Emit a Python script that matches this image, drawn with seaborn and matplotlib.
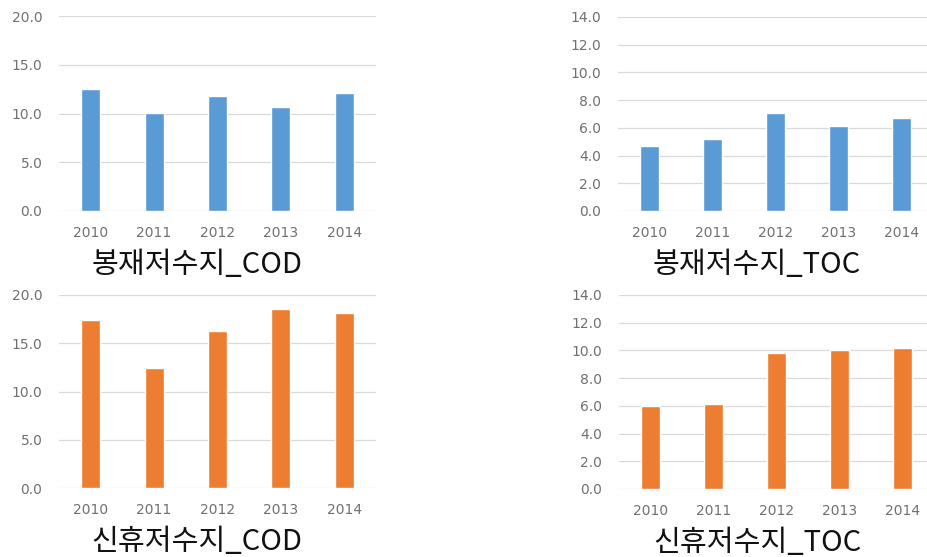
import numpy as np
import pandas as pd
import matplotlib
matplotlib.use("Agg")
import matplotlib.pyplot as plt
import seaborn as sns

# ====================================================
# DATA
# ====================================================

years = ["2010", "2011", "2012", "2013", "2014"]

bongjae_cod = [12.5, 10.1, 11.8, 10.7, 12.1]
bongjae_toc = [4.7, 5.2, 7.1, 6.1, 6.7]
sinhyu_cod = [17.4, 12.4, 16.3, 18.6, 18.1]
sinhyu_toc = [6.0, 6.1, 9.8, 10.0, 10.2]

titles = ["봉재저수지_COD", "봉재저수지_TOC", "신휴저수지_COD", "신휴저수지_TOC"]

blue = "#5B9BD5"
orange = "#ED7D31"

# ====================================================
# STYLE
# ====================================================

sns.set_theme(style="white")
plt.rcParams["font.family"] = ["Noto Sans CJK KR", "DejaVu Sans"]

fig = plt.figure(figsize=(9.27, 5.57), dpi=100)

W, H = 927, 557

# axes boxes in pixels: left, top, right, bottom
boxes = [
    (59, 16, 376, 211),
    (618, 17, 933, 211),
    (59, 295, 376, 488),
    (619, 295, 934, 489),
]

panels = [
    (bongjae_cod, blue, 20, 5, titles[0]),
    (bongjae_toc, blue, 14, 2, titles[1]),
    (sinhyu_cod, orange, 20, 5, titles[2]),
    (sinhyu_toc, orange, 14, 2, titles[3]),
]

title_pos = [(197, 265), (757, 265), (197, 542), (757, 543)]

for (l, t, r, b), (vals, col, ymax, step, title), (tx, ty) in zip(boxes, panels, title_pos):
    ax = fig.add_axes([l / W, 1 - b / H, (r - l) / W, (b - t) / H])
    df = pd.DataFrame({"year": years, "value": vals})
    sns.barplot(data=df, x="year", y="value", color=col, width=0.3,
                saturation=1, ax=ax)
    ax.set_xlim(-0.5, 4.5)
    ax.set_ylim(0, ymax)
    ticks = np.arange(0, ymax + step / 2, step)
    ax.set_yticks(ticks)
    ax.set_yticklabels([f"{v:.1f}" for v in ticks])
    ax.yaxis.grid(True, color="#D9D9D9", linewidth=0.9)
    ax.set_axisbelow(True)
    for s in ax.spines.values():
        s.set_visible(False)
    ax.tick_params(axis="y", length=0, pad=12, labelsize=10, labelcolor="#707070")
    ax.tick_params(axis="x", length=0, pad=11, labelsize=10, labelcolor="#707070")
    for lab in ax.get_xticklabels() + ax.get_yticklabels():
        lab.set_family("DejaVu Sans")
    ax.set_xlabel("")
    ax.set_ylabel("")
    fig.text(tx / W, 1 - ty / H, title, ha="center", va="center",
             fontsize=21, fontweight="light", color="#111111")

fig.savefig("out.png", dpi=100)
